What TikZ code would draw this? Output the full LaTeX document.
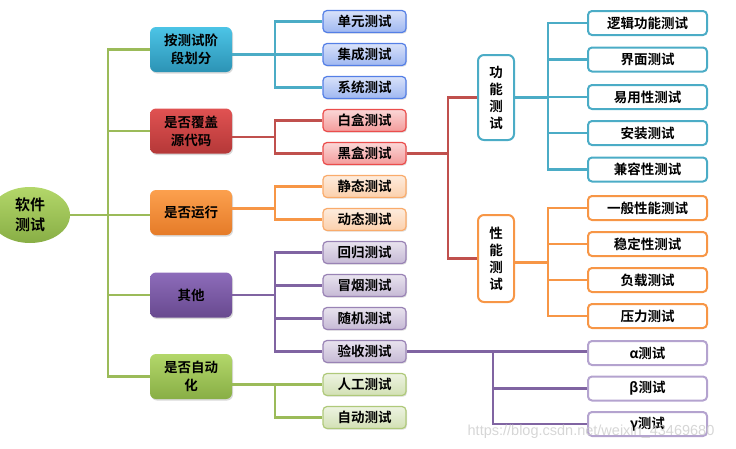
\documentclass[tikz,border=0pt]{standalone}
\usepackage{fontspec}
\setmainfont{Noto Sans CJK SC}[BoldFont={Noto Sans CJK SC Bold}]
\newfontfamily\wmfont{Liberation Sans}
\usetikzlibrary{shapes.geometric,shadows,calc}
\definecolor{cB}{HTML}{4BACC6}
\definecolor{cR}{HTML}{C0504D}
\definecolor{cO}{HTML}{F79646}
\definecolor{cP}{HTML}{8064A2}
\definecolor{cG}{HTML}{9BBB59}
\definecolor{cPl}{HTML}{B4A3CF}
\definecolor{lBt}{HTML}{4CC4E6}\definecolor{lBb}{HTML}{2C93B5}
\definecolor{lRt}{HTML}{E05252}\definecolor{lRb}{HTML}{B53838}
\definecolor{lOt}{HTML}{FCA04E}\definecolor{lOb}{HTML}{E57B28}
\definecolor{lPt}{HTML}{8D6CBA}\definecolor{lPb}{HTML}{68498F}
\definecolor{lGt}{HTML}{B3D76A}\definecolor{lGb}{HTML}{88AE45}
\tikzset{
  conn/.style={line width=2.2pt},
  txt/.style={font=\bfseries\fontsize{13.5}{18}\selectfont, align=center, inner sep=0pt},
  rootnode/.style={ellipse, draw=none, minimum width=80pt, minimum height=56pt, top color=lGt, bottom color=lGb, txt, font=\bfseries\fontsize{15}{20}\selectfont},
  lone/.style 2 args={rounded corners=6pt, minimum width=82pt, minimum height=45pt, top color=#1, bottom color=#2, txt, drop shadow={opacity=0.3, shadow xshift=1pt, shadow yshift=-1.5pt}},
  ltwo/.style={rounded corners=4pt, draw=#1!80!white, line width=1.2pt, minimum width=83pt, minimum height=22pt, top color=#1!18!white, bottom color=#1!45!white, txt, drop shadow={opacity=0.25, shadow xshift=1pt, shadow yshift=-1.2pt}},
  lthree/.style={rounded corners=4pt, draw=#1, line width=2pt, fill=white, minimum width=119pt, minimum height=24pt, txt},
  vbox/.style={rounded corners=6pt, draw=#1, line width=2pt, fill=white, minimum width=36pt, txt, font=\bfseries\fontsize{13.5}{17}\selectfont},
}
\begin{document}
\begin{tikzpicture}[x=1pt,y=-1pt]
\useasboundingbox (0,0) rectangle (736,448);
\clip (0,0) rectangle (736,448);
\coordinate (s1) at (108,0);
\coordinate (s2) at (275,0);
\coordinate (s3) at (448,0);
\coordinate (s4) at (548,0);
\coordinate (s5) at (493,0);

\node[rootnode] (root) at (30,215) {软件\\测试};

\node[lone={lBt}{lBb}] (a1) at (191,49.5) {按测试阶\\段划分};
\node[lone={lRt}{lRb}] (a2) at (191,131) {是否覆盖\\源代码};
\node[lone={lOt}{lOb}] (a3) at (191,212.5) {是否运行};
\node[lone={lPt}{lPb}] (a4) at (191,295) {其他};
\node[lone={lGt}{lGb}] (a5) at (191,376.5) {是否自动\\化};

\node[ltwo=blue!45!cB] (c1) at (364.5,21.5) {单元测试};
\node[ltwo=blue!45!cB] (c2) at (364.5,54.5) {集成测试};
\node[ltwo=blue!45!cB] (c3) at (364.5,87.5) {系统测试};
\node[ltwo=red!60!cR] (c4) at (364.5,120.5) {白盒测试};
\node[ltwo=red!60!cR] (c5) at (364.5,153.5) {黑盒测试};
\node[ltwo=cO] (c6) at (364.5,186.5) {静态测试};
\node[ltwo=cO] (c7) at (364.5,219.5) {动态测试};
\node[ltwo=cP] (c8) at (364.5,252.5) {回归测试};
\node[ltwo=cP] (c9) at (364.5,285.5) {冒烟测试};
\node[ltwo=cP] (c10) at (364.5,318.5) {随机测试};
\node[ltwo=cP] (c11) at (364.5,351.5) {验收测试};
\node[ltwo=cG] (c12) at (364.5,384.5) {人工测试};
\node[ltwo=cG] (c13) at (364.5,417.5) {自动测试};

\node[vbox=cB, minimum height=85pt] (f1) at (496,97.5) {功\\能\\测\\试};
\node[vbox=cO, minimum height=87pt] (f2) at (496,258.5) {性\\能\\测\\试};

\node[lthree=cB] (d1) at (647.5,23) {逻辑功能测试};
\node[lthree=cB] (d2) at (647.5,59.5) {界面测试};
\node[lthree=cB] (d3) at (647.5,97) {易用性测试};
\node[lthree=cB] (d4) at (647.5,133) {安装测试};
\node[lthree=cB] (d5) at (647.5,169.5) {兼容性测试};

\node[lthree=cO] (e1) at (647.5,208) {一般性能测试};
\node[lthree=cO] (e2) at (647.5,244) {稳定性测试};
\node[lthree=cO] (e3) at (647.5,280) {负载测试};
\node[lthree=cO] (e4) at (647.5,316) {压力测试};

\node[lthree=cPl] (g1) at (647.5,353) {α测试};
\node[lthree=cPl] (g2) at (647.5,388.5) {β测试};
\node[lthree=cPl, text depth=3pt] (g3) at (647.5,424) {γ测试};

% connectors
\draw[conn, cG] (root.east) -- (root.east -| a3.west);
\draw[conn, cG] (a1.west) -- (a1.west -| s1) -- (a5.west -| s1) -- (a5.west);
\draw[conn, cG] (a2.west -| s1) -- (a2.west);
\draw[conn, cG] (a4.west -| s1) -- (a4.west);

\draw[conn, cB] (a1.east |- c2.west) -- (c2.west);
\draw[conn, cB] (c1.west) -- (c1.west -| s2) -- (c3.west -| s2) -- (c3.west);

\draw[conn, cR] ($(a2.east |- c4.west)!0.5!(a2.east |- c5.west)$) -- ($(s2 |- c4.west)!0.5!(s2 |- c5.west)$);
\draw[conn, cR] (c4.west) -- (c4.west -| s2) -- (c5.west -| s2) -- (c5.west);

\draw[conn, cO] ([yshift=4pt]a3.east) -- ([yshift=4pt]a3.east -| s2);
\draw[conn, cO] (c6.west) -- (c6.west -| s2) -- (c7.west -| s2) -- (c7.west);

\draw[conn, cP] (a4.east) -- (a4.east -| s2);
\draw[conn, cP] (c8.west) -- (c8.west -| s2) -- (c11.west -| s2) -- (c11.west);
\draw[conn, cP] (c9.west -| s2) -- (c9.west);
\draw[conn, cP] (c10.west -| s2) -- (c10.west);

\draw[conn, cG] (a5.east |- c12.west) -- (c12.west);
\draw[conn, cG] (c12.west -| s2) -- (c13.west -| s2) -- (c13.west);

\draw[conn, cR] (c5.east) -- (c5.east -| s3);
\draw[conn, cR] (f1.west) -- (f1.west -| s3) -- (f2.west -| s3) -- (f2.west);

\draw[conn, cB] (f1.east) -- (f1.east -| s4);
\draw[conn, cB] (d1.west) -- (d1.west -| s4) -- (d5.west -| s4) -- (d5.west);
\draw[conn, cB] (d2.west -| s4) -- (d2.west);
\draw[conn, cB] (d3.west -| s4) -- (d3.west);
\draw[conn, cB] (d4.west -| s4) -- (d4.west);

\draw[conn, cO] ([yshift=-4pt]f2.east) -- ([yshift=-4pt]f2.east -| s4);
\draw[conn, cO] (e1.west) -- (e1.west -| s4) -- (e4.west -| s4) -- (e4.west);
\draw[conn, cO] (e2.west -| s4) -- (e2.west);
\draw[conn, cO] (e3.west -| s4) -- (e3.west);

\draw[conn, cP] (c11.east) -- (c11.east -| g1.west);
\draw[conn, cP] (c11.east -| s5) -- (g3.west -| s5) -- (g3.west);
\draw[conn, cP] (g2.west -| s5) -- (g2.west);

\node[font=\wmfont\fontsize{14.5}{16}\selectfont, text=gray!40, opacity=0.8, inner sep=0pt] (wm) at (591,432) {https://blog.csdn.net/weixin\_43469680};
\end{tikzpicture}
\end{document}
